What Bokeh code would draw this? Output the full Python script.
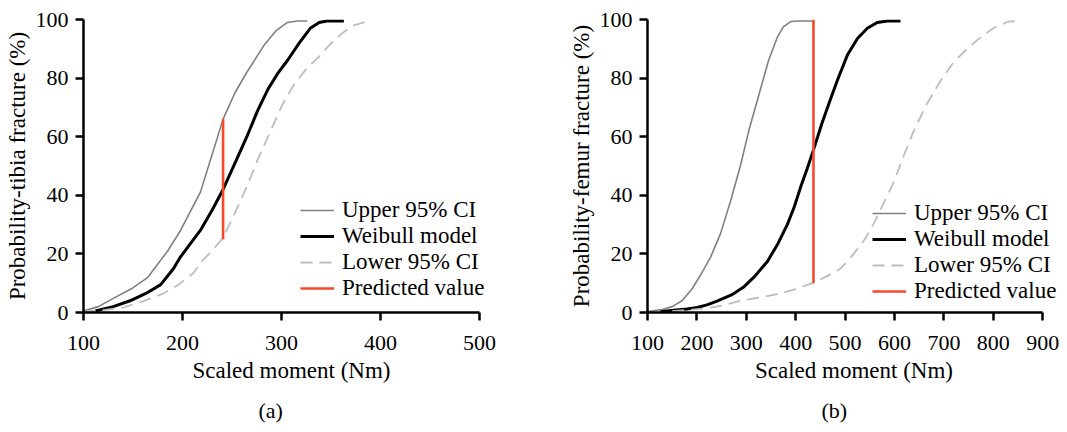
from bokeh.plotting import figure
from bokeh.layouts import row
from bokeh.models import Range1d, FixedTicker, Legend, LegendItem, Title, LinearAxis
from bokeh.embed import file_html
from bokeh.resources import INLINE

# ---------------- data ----------------
legend_labels = ["Upper 95% CI", "Weibull model", "Lower 95% CI", "Predicted value"]

# (a) tibia
tibia_upper_x = [100, 115, 131, 148, 165, 185, 198, 208, 218, 230, 241, 253, 265, 282, 294, 306, 316, 326]
tibia_upper_y = [0.5, 2, 5, 8, 12, 21, 28, 34.5, 41, 54, 66, 75, 82, 91, 96, 99, 99.5, 99.5]
tibia_model_x = [112, 130, 147, 163, 178, 191, 198, 208, 218, 230, 241, 253, 265, 276, 286, 296, 306, 318,
                 329, 338, 346, 363]
tibia_model_y = [0.5, 2, 4, 6.5, 9.5, 15, 19, 23.5, 28, 35, 42, 51, 60, 69, 76, 81.5, 86, 92,
                 97, 99, 99.5, 99.5]
tibia_lower_x = [100, 120, 140, 160, 181, 196, 211, 221, 231, 241, 253, 265, 277, 289, 301, 313, 326, 337,
                 349, 362, 373, 388]
tibia_lower_y = [0.3, 0.8, 1.7, 3.8, 6.5, 9.5, 13.5, 18, 21.5, 25.5, 34, 43, 53, 62, 71, 78, 83.5, 87,
                 91.5, 95.5, 98, 99.5]
tibia_pred_x = 241
tibia_pred_y = [25, 66]

# (b) femur
femur_upper_x = [100, 130, 150, 170, 190, 207, 228, 248, 268, 288, 305, 325, 345, 363, 375, 390, 405, 434]
femur_upper_y = [0.3, 1, 2, 4, 8, 12.7, 19, 27, 38, 50, 62, 74, 86, 94, 97.5, 99.3, 99.5, 99.5]
femur_model_x = [126, 153, 180, 201, 222, 242, 270, 294, 318, 343, 364, 383, 397, 410, 423, 436, 453, 470,
                 485, 505, 525, 545, 565, 586, 612]
femur_model_y = [0.3, 0.8, 1.2, 1.7, 2.7, 4, 6, 8.6, 12.5, 17.5, 23.5, 30, 36, 42.8, 49, 55.5, 64.5, 72.6,
                 79.5, 88, 93.5, 97, 99, 99.5, 99.5]
femur_lower_x = [150, 221, 255, 288, 330, 369, 400, 436, 465, 491, 515, 540, 560, 580, 600, 615, 639, 665,
                 693, 720, 747, 775, 800, 830, 855]
femur_lower_y = [0.5, 1.4, 2.5, 4, 5.2, 6.5, 8, 10.2, 12.5, 15, 19.5, 25, 31, 38, 45, 52, 62, 71,
                 79, 85.5, 90, 94, 97, 99.3, 99.5]
femur_pred_x = 436
femur_pred_y = [10, 100]

tibia_xticks = [100, 200, 300, 400, 500]
femur_xticks = [100, 200, 300, 400, 500, 600, 700, 800, 900]
yticks = [0, 20, 40, 60, 80, 100]

FONT = "Liberation Serif"
UPPER_C = "#808080"
MODEL_C = "#000000"
LOWER_C = "#bdbdbd"
PRED_C = "#f4492b"


def style_axis(ax):
    ax.axis_line_width = 2.5
    ax.axis_line_color = "black"
    ax.major_tick_line_width = 2.5
    ax.major_tick_line_color = "black"
    ax.major_tick_out = 8
    ax.major_tick_in = 0
    ax.minor_tick_line_color = None
    ax.major_label_text_font = FONT
    ax.major_label_text_font_size = "22px"
    ax.major_label_text_color = "black"
    ax.axis_label_text_font = FONT
    ax.axis_label_text_font_size = "23px"
    ax.axis_label_text_font_style = "normal"
    ax.axis_label_text_color = "black"


def make_panel(frame_w, border_left, border_right, x_axis_end, xticks, ylabel, tag, tag_offset,
               ux, uy, mx, my, lx, ly, px, py, legend_loc, px_per_unit):
    x_view_end = 100 + frame_w / px_per_unit
    p = figure(frame_width=frame_w, frame_height=293, x_range=Range1d(100, x_view_end),
               y_range=Range1d(0, 100), x_axis_location=None, y_axis_location=None,
               output_backend="svg", toolbar_location=None,
               min_border_left=border_left, min_border_right=border_right,
               min_border_top=19, min_border_bottom=100)
    p.outline_line_color = None
    p.grid.visible = False
    p.background_fill_color = "white"

    r_up = p.line(ux, uy, line_color=UPPER_C, line_width=1.6)
    r_mod = p.line(mx, my, line_color=MODEL_C, line_width=3)
    r_low = p.line(lx, ly, line_color=LOWER_C, line_width=1.8, line_dash="12 7")
    r_pred = p.line([px, px], py, line_color=PRED_C, line_width=2.6)

    xax = LinearAxis(ticker=FixedTicker(ticks=xticks), bounds=(100, x_axis_end),
                     major_label_standoff=15, axis_label="Scaled moment (Nm)", axis_label_standoff=5)
    yax = LinearAxis(ticker=FixedTicker(ticks=yticks), major_label_standoff=7,
                     axis_label=ylabel, axis_label_standoff=3)
    style_axis(xax)
    style_axis(yax)
    p.add_layout(xax, "below")
    p.add_layout(yax, "left")

    items = [LegendItem(label=legend_labels[0], renderers=[r_up]),
             LegendItem(label=legend_labels[1], renderers=[r_mod]),
             LegendItem(label=legend_labels[2], renderers=[r_low]),
             LegendItem(label=legend_labels[3], renderers=[r_pred])]
    leg = Legend(items=items, location=legend_loc, orientation="vertical",
                 glyph_width=34, glyph_height=26, label_height=26, label_standoff=8,
                 spacing=0, padding=0, margin=0,
                 border_line_alpha=0, background_fill_alpha=0,
                 label_text_font=FONT, label_text_font_size="23px", label_text_color="black")
    p.add_layout(leg)

    p.add_layout(Title(text=tag, align="left", offset=tag_offset, text_font=FONT, text_font_size="22px",
                       text_font_style="normal", text_color="black", standoff=20), "below")
    return p


p1 = make_panel(416, 83, 61, 500, tibia_xticks, "Probability-tibia fracture (%)", "(a)", 175,
                tibia_upper_x, tibia_upper_y, tibia_model_x, tibia_model_y,
                tibia_lower_x, tibia_lower_y, tibia_pred_x, tibia_pred_y, (217, 11), 0.99)
p2 = make_panel(413, 87, 0, 900, femur_xticks, "Probability-femur fracture (%)", "(b)", 174,
                femur_upper_x, femur_upper_y, femur_model_x, femur_model_y,
                femur_lower_x, femur_lower_y, femur_pred_x, femur_pred_y, (225, 8), 0.494)

layout = row(p1, p2)
open("out.html", "w").write(file_html(layout, INLINE))
